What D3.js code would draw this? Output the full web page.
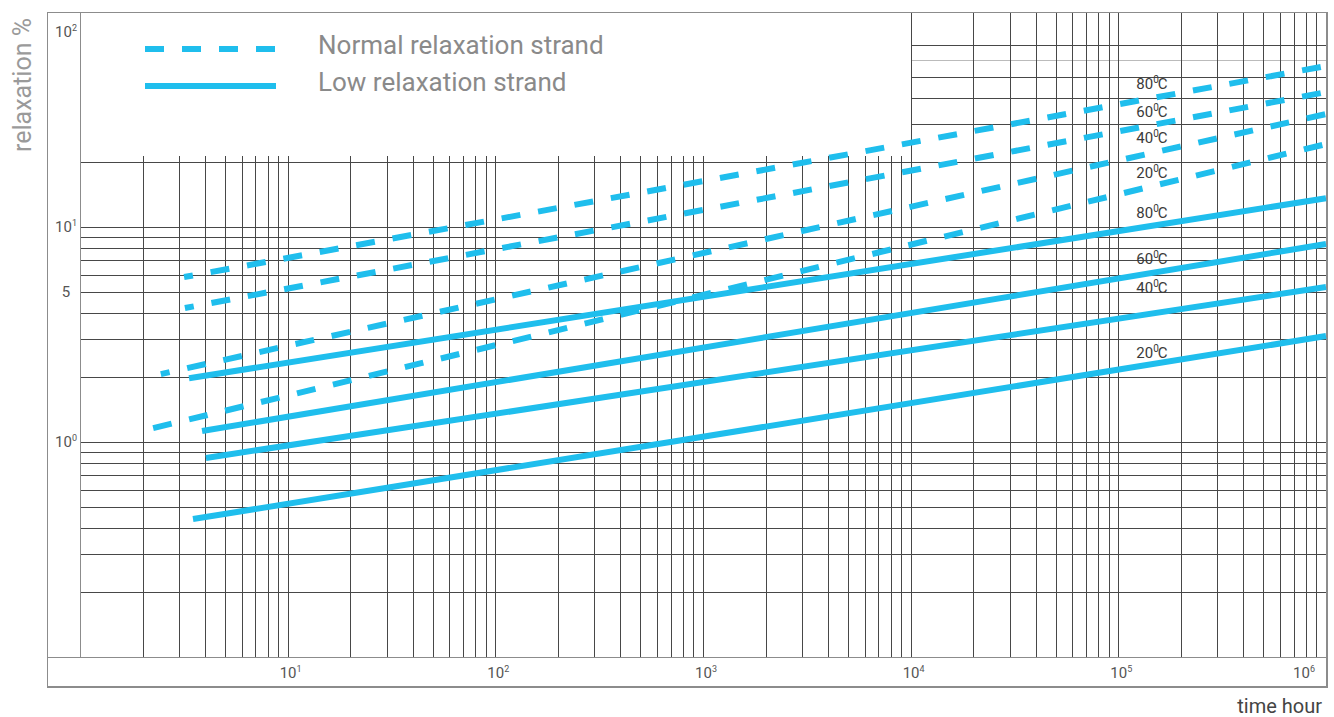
<!DOCTYPE html>
<html lang="en">
<head>
  <meta charset="UTF-8">
  <title>Relaxation vs time</title>
  <script src="https://d3js.org/d3.v7.min.js"></script>
  <style>
    body { margin: 0; background: #fff; font-family: Roboto, "Open Sans", sans-serif; }
    .grid line { stroke: #474747; stroke-width: 1; shape-rendering: crispEdges; }
    .frame { fill: none; stroke: #8c8c8c; stroke-width: 1.5; shape-rendering: crispEdges; }
    .tick-label { fill: #555; font-size: 15px; }
    .temp-label { fill: #3a3a3a; font-size: 15px; }
  </style>
</head>
<body>
<div id="chart"></div>
<script>
  // temperatures of the curves (top to bottom)
  const temps = ["80", "60", "40", "20"];

  // normal relaxation strand (dashed): start point and value at t = 10^6 h
  const normalT0 = [3.17, 3.2, 2.45, 2.25];
  const normalR0 = [5.85, 4.2, 2.07, 1.16];
  const normalR1 = [56.1, 42.4, 33.5, 24.3];

  // low relaxation strand (solid)
  const lowT0 = [3.35, 3.87, 4.04, 3.5];
  const lowR0 = [1.98, 1.125, 0.843, 0.438];
  const lowR1 = [13.6, 8.34, 5.26, 3.11];

  const tEnd = 1e6;

  // where the temperature labels sit
  const labelT = 1.22e5;
  const normalLabelR = [46.2, 34.3, 25.9, 17.8];
  const lowLabelR = [11.6, 7.1, 5.2, 2.59];

  // axis tick labels
  const xTickExp = [1, 2, 3, 4, 5, 6];
  const yTickVals = [100, 10, 5, 1];

  const W = 1334, H = 717;
  const color = "#1fbeed";

  const svg = d3.select("#chart").append("svg")
    .attr("width", W).attr("height", H);

  const x = d3.scaleLog().domain([1, 1e6]).range([80, 1326]);
  const y = d3.scaleLog().domain([0.1, 100]).range([657, 12]);

  // grid values
  const xGrid = [];
  for (let k = 0; k < 6; k++) {
    for (let m = 1; m <= 9; m++) {
      const v = m * Math.pow(10, k);
      if (v > 1) xGrid.push(v);
    }
  }
  const yGridLow = [0.2, 0.3, 0.4, 0.5, 0.6, 0.7, 0.8, 0.9, 1, 2, 3, 4, 5, 6, 7, 8, 9, 10, 20];
  const yGridHigh = [30, 40, 50, 60, 70];

  const grid = svg.append("g").attr("class", "grid");

  // horizontal lines
  grid.selectAll(".hl").data(yGridLow).enter().append("line")
    .attr("x1", x(1)).attr("x2", x(1e6))
    .attr("y1", d => Math.round(y(d)) + 0.5).attr("y2", d => Math.round(y(d)) + 0.5);
  grid.selectAll(".hh").data(yGridHigh).enter().append("line")
    .attr("x1", x(1e4)).attr("x2", x(1e6))
    .attr("y1", d => Math.round(y(d)) + 0.5).attr("y2", d => Math.round(y(d)) + 0.5)
    .style("stroke", d => d === 60 ? "#bbb" : null);

  // vertical lines
  grid.selectAll(".vl").data(xGrid).enter().append("line")
    .attr("x1", d => Math.round(x(d)) + 0.5).attr("x2", d => Math.round(x(d)) + 0.5)
    .attr("y1", d => d >= 1e4 ? y(100) : y(20) - 6)
    .attr("y2", y(0.1));

  // frame
  svg.append("rect").attr("class", "frame")
    .attr("x", 47.5).attr("y", 12.5).attr("width", 1279.5).attr("height", 674.5);
  svg.append("line").attr("class", "frame")
    .attr("x1", 80.5).attr("x2", 80.5).attr("y1", 12.5).attr("y2", y(0.1));
  svg.append("line").attr("class", "frame")
    .attr("x1", 47.5).attr("x2", 1327).attr("y1", Math.round(y(0.1)) + 0.5).attr("y2", Math.round(y(0.1)) + 0.5);

  // curves
  const line = d3.line().x(d => x(d[0])).y(d => y(d[1]));
  const dashOffset = [10, 10, 10, 0];

  temps.forEach((t, i) => {
    svg.append("path")
      .attr("d", line([[normalT0[i], normalR0[i]], [tEnd, normalR1[i]]]))
      .attr("fill", "none").attr("stroke", color).attr("stroke-width", 6)
      .attr("stroke-dasharray", "19,18").attr("stroke-dashoffset", dashOffset[i]);
    svg.append("path")
      .attr("d", line([[lowT0[i], lowR0[i]], [tEnd, lowR1[i]]]))
      .attr("fill", "none").attr("stroke", color).attr("stroke-width", 6);
  });

  // temperature labels
  function tempLabel(val, r) {
    const txt = svg.append("text").attr("class", "temp-label")
      .attr("x", x(labelT)).attr("y", y(r)).attr("dy", "0.35em");
    txt.append("tspan").text(val);
    txt.append("tspan").text("0").attr("font-size", "10px").attr("dy", -6);
    txt.append("tspan").text("C").attr("dy", 6).attr("dx", -1);
  }
  temps.forEach((t, i) => tempLabel(t, normalLabelR[i]));
  temps.forEach((t, i) => tempLabel(t, lowLabelR[i]));

  // x tick labels
  xTickExp.forEach(e => {
    const xp = e === 6 ? x(Math.pow(10, e)) - 22 : x(Math.pow(10, e)) + 3;
    const txt = svg.append("text").attr("class", "tick-label")
      .attr("x", xp).attr("y", 673).attr("dy", "0.35em").attr("text-anchor", "middle");
    txt.append("tspan").text("10");
    txt.append("tspan").text(e).attr("font-size", "9px").attr("dy", -6);
  });

  // y tick labels
  yTickVals.forEach(v => {
    const yp = Math.max(y(v), 32);
    const txt = svg.append("text").attr("class", "tick-label")
      .attr("x", 66).attr("y", yp).attr("dy", "0.35em").attr("text-anchor", "middle");
    if (v === 5) {
      txt.text("5");
    } else {
      txt.append("tspan").text("10");
      txt.append("tspan").text(Math.round(Math.log10(v))).attr("font-size", "9px").attr("dy", -6);
    }
  });

  // axis titles
  svg.append("text")
    .attr("transform", "translate(22,85) rotate(-90)")
    .attr("text-anchor", "middle").attr("dy", "0.35em")
    .style("font-size", "25px").style("fill", "#9a9a9a")
    .text("relaxation %");
  svg.append("text")
    .attr("x", 1322).attr("y", 706).attr("dy", "0.35em")
    .attr("text-anchor", "end")
    .style("font-size", "20px").style("fill", "#444")
    .text("time hour");

  // legend
  const legend = [
    {label: "Normal relaxation strand", dash: "19,18", ly: 49},
    {label: "Low relaxation strand", dash: null, ly: 86}
  ];
  legend.forEach(d => {
    svg.append("line")
      .attr("x1", 145).attr("x2", 276).attr("y1", d.ly).attr("y2", d.ly)
      .attr("stroke", color).attr("stroke-width", 6)
      .attr("stroke-dasharray", d.dash);
    svg.append("text")
      .attr("x", 318).attr("y", d.ly - 4).attr("dy", "0.35em")
      .style("font-size", "26px").style("fill", "#8a8a8a")
      .text(d.label);
  });
</script>
</body>
</html>
